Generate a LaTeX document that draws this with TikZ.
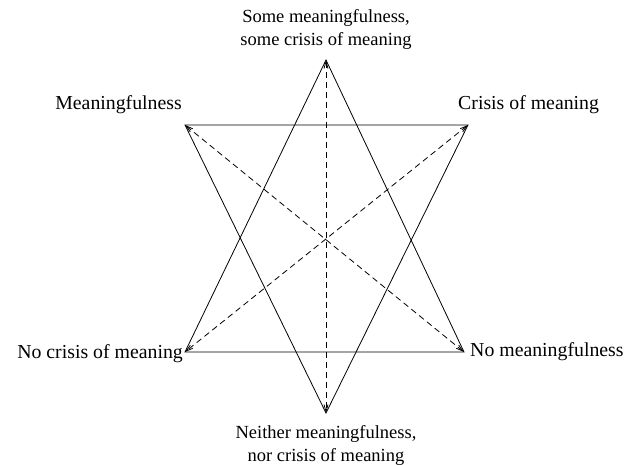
\documentclass[tikz,border=0pt]{standalone}
\usepackage{fontspec}
\setmainfont{Liberation Serif}
\usetikzlibrary{arrows.meta}
\begin{document}
\begin{tikzpicture}[x=1pt,y=-1pt,
  lbl/.style={inner sep=0pt, font=\fontsize{18.5}{23}\selectfont, align=center},
  sidelbl/.style={inner sep=0pt, font=\fontsize{19.8}{24}\selectfont},
  solidline/.style={line width=0.8pt, line join=miter},
  dashline/.style={line width=0.8pt, dash pattern=on 6pt off 4pt, {Straight Barb[length=7pt,width=4pt]}-{Straight Barb[length=7pt,width=4pt]}}]
\useasboundingbox (0,0) rectangle (629,465);
% vertices
\coordinate (T) at (326,60);
\coordinate (B) at (326,413);
\coordinate (TL) at (185,125);
\coordinate (TR) at (468,125);
\coordinate (BL) at (185,352);
\coordinate (BR) at (464,352);
% triangles
\draw[solidline] (T) -- (BR) -- (BL) -- cycle;
\draw[solidline] (TL) -- (TR) -- (B) -- cycle;
% dashed axes
\draw[dashline] (TL) -- (BR);
\draw[dashline] (TR) -- (BL);
\draw[dashline] (T) -- (B);
% labels
\node[lbl, anchor=south] (lt) at (326,50) {Some meaningfulness,\\some crisis of meaning};
\node[sidelbl, anchor=base east] (ltl) at (182,110) {Meaningfulness};
\node[sidelbl, anchor=base west] (ltr) at (458,110) {Crisis of meaning};
\node[sidelbl, anchor=base east] (lbl) at (183,358) {No crisis of meaning};
\node[sidelbl, anchor=base west] (lbr) at (470,356) {No meaningfulness};
\node[lbl, anchor=north] (lb) at (326,425) {Neither meaningfulness,\\nor crisis of meaning};
\end{tikzpicture}
\end{document}
